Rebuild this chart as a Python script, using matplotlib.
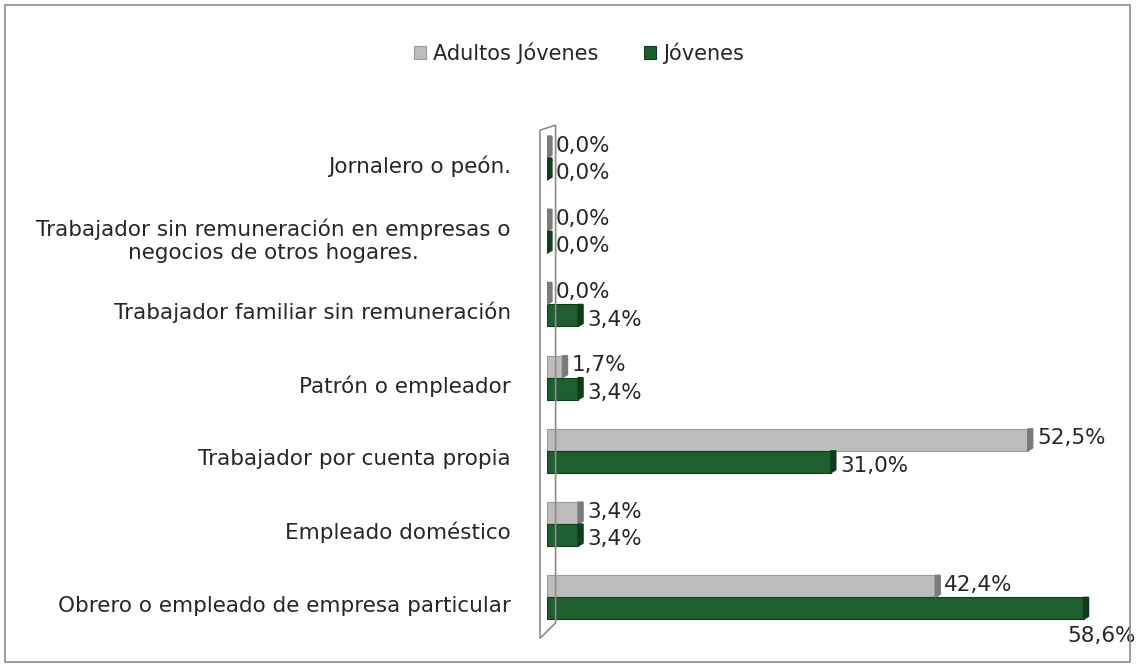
import numpy as np
import matplotlib.pyplot as plt
from matplotlib.patches import Rectangle, Polygon

categorias = [
    'Obrero o empleado de empresa particular',
    'Empleado doméstico',
    'Trabajador por cuenta propia',
    'Patrón o empleador',
    'Trabajador familiar sin remuneración',
    'Trabajador sin remuneración en empresas o\nnegocios de otros hogares.',
    'Jornalero o peón.',
]
adultos_jovenes = [42.4, 3.4, 52.5, 1.7, 0.0, 0.0, 0.0]
jovenes = [58.6, 3.4, 31.0, 3.4, 3.4, 0.0, 0.0]

plt.rcParams['font.family'] = ['DejaVu Sans']
txt_color = '#262626'
gris = '#bdbdbd'
gris_osc = '#7a7a7a'
verde = '#1f5e2e'
verde_osc = '#123a1c'

fig = plt.figure(figsize=(11.37, 6.67), dpi=100)
ax = fig.add_axes([0.481, 0.0255, 0.505, 0.787])

y = np.arange(len(categorias))
h = 0.3
b1 = ax.barh(y + h / 2, adultos_jovenes, height=h, color=gris,
             edgecolor='#9a9a9a', linewidth=0.8, label='Adultos Jóvenes')
b2 = ax.barh(y - h / 2, jovenes, height=h, color=verde,
             edgecolor=verde_osc, linewidth=0.8, label='Jóvenes')

# tapa lateral (efecto 3D)
d = 0.55
for bars, c in ((b1, gris_osc), (b2, verde_osc)):
    for r in bars:
        x1 = r.get_x() + r.get_width()
        yb, yt = r.get_y(), r.get_y() + r.get_height()
        ax.add_patch(Polygon([(x1, yb), (x1 + d, yb + 0.04), (x1 + d, yt),
                              (x1, yt)], closed=True, color=c, zorder=3))

# etiquetas de datos
def fmt(v):
    return f'{v:.1f}%'.replace('.', ',')

fs = 15.5
for yi, v in zip(y, adultos_jovenes):
    ax.annotate(fmt(v), (v + d, yi + h / 2), xytext=(3, 1),
                textcoords='offset points', va='center', ha='left',
                fontsize=fs, color=txt_color)
for yi, v in zip(y, jovenes):
    if v > 55:
        ax.annotate(fmt(v), (v + d, yi - h / 2), xytext=(34, -13),
                    textcoords='offset points', va='top', ha='right',
                    fontsize=fs, color=txt_color)
    else:
        ax.annotate(fmt(v), (v + d, yi - h / 2), xytext=(3, -3),
                    textcoords='offset points', va='center', ha='left',
                    fontsize=fs, color=txt_color)

# pared 3D
wall = Polygon([(-0.75, 6.38), (0.95, 6.45), (0.95, -0.35), (-0.75, -0.56)],
               closed=True, fill=False, edgecolor='#8c8c8c', linewidth=1.2,
               clip_on=False)
ax.add_patch(wall)

ax.set_xlim(0, 62.7)
ax.set_ylim(-0.72, 6.45)
ax.set_yticks(y - 0.085)
ax.set_yticklabels(categorias, fontsize=15.5, color=txt_color, ha='right',
                   multialignment='center')
ax.tick_params(axis='y', length=0, pad=26)
ax.set_xticks([])
for s in ax.spines.values():
    s.set_visible(False)

fig.legend(handles=[b1, b2], loc='center', bbox_to_anchor=(0.509, 0.92),
           ncol=2, frameon=False, fontsize=15, handlelength=0.6,
           handleheight=0.6, handletextpad=0.3, columnspacing=2.2,
           labelcolor=txt_color)

fig.patches.append(Rectangle((0.004, 0.008), 0.99, 0.985, transform=fig.transFigure,
                             fill=False, edgecolor='#8c8c8c', linewidth=1.2))

fig.savefig('out.png', dpi=100)
